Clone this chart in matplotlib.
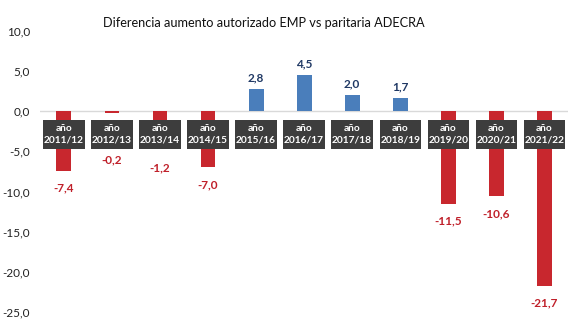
import matplotlib.pyplot as plt
import matplotlib.ticker as mticker
from matplotlib.patches import Rectangle

plt.rcParams['font.family'] = ['Lato', 'DejaVu Sans']

periodos = ["2011/12", "2012/13", "2013/14", "2014/15", "2015/16", "2016/17",
            "2017/18", "2018/19", "2019/20", "2020/21", "2021/22"]
diferencia = [-7.4, -0.2, -1.2, -7.0, 2.8, 4.5, 2.0, 1.7, -11.5, -10.6, -21.7]

rojo = '#c8272e'
azul = '#4a7ebb'
rojo_txt = '#c0202a'
azul_txt = '#1f3864'

fig = plt.figure(figsize=(5.7, 3.22), dpi=100)
ax = fig.add_axes([0.070, 0.031, 0.927, 0.873])

x = list(range(len(periodos)))
colores = [azul if v > 0 else rojo for v in diferencia]
ax.bar(x, diferencia, width=0.31, color=colores, zorder=2)

ax.axhline(0, color='#d9d9d9', lw=1, zorder=1)

# recuadros oscuros con el periodo, sobre el eje
for i, p in enumerate(periodos):
    ax.add_patch(Rectangle((i - 0.43, -4.65), 0.86, 3.6, facecolor='#3d3d3d',
                           edgecolor='none', zorder=3))
    ax.text(i, -2.85, "año\n" + p, ha='center', va='center', color='white',
            fontsize=7.3, fontweight='bold', linespacing=1.4, zorder=4)

# etiquetas de valor
for i, v in enumerate(diferencia):
    txt = f"{v:.1f}".replace('.', ',')
    if v > 0:
        ax.annotate(txt, (i, v), xytext=(0, 4), textcoords='offset points',
                    ha='center', va='bottom', color=azul_txt, fontsize=8.5,
                    fontweight='bold')
    else:
        ly = v - 5.8 if v > -4 else v - 2.2
        ax.text(i, ly, txt, ha='center', va='center', color=rojo_txt,
                fontsize=8.5, fontweight='bold')

ax.set_xlim(-0.5, len(periodos) - 0.5)
ax.set_ylim(-25, 10)
ax.set_yticks([10, 5, 0, -5, -10, -15, -20, -25])
ax.yaxis.set_major_formatter(mticker.FuncFormatter(lambda v, _: f"{v:.1f}".replace('.', ',')))
ax.tick_params(axis='y', length=0, labelsize=8.5, pad=7, labelcolor='#222222')
ax.set_xticks([])
for s in ax.spines.values():
    s.set_visible(False)

fig.text(0.462, 0.93, "Diferencia aumento autorizado EMP vs paritaria ADECRA",
         ha='center', va='center', fontsize=9.2, color='#111111')

fig.savefig("out.png", dpi=100)
